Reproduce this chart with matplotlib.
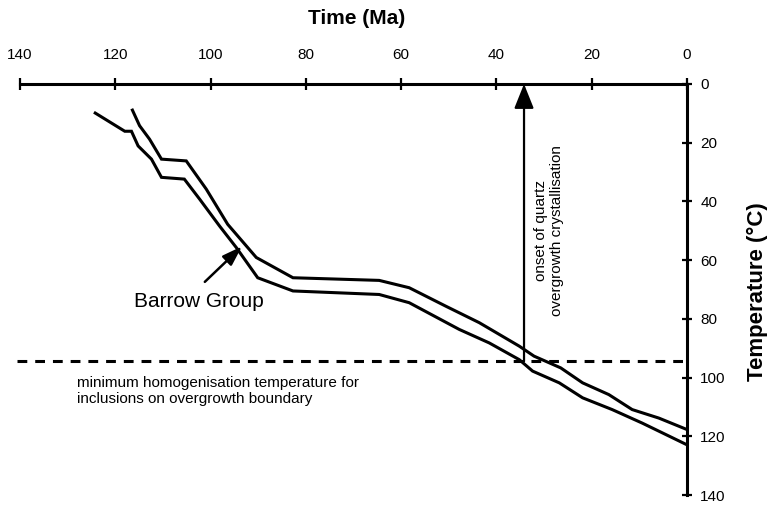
import matplotlib
matplotlib.use("Agg")
import matplotlib.pyplot as plt

plt.rcParams['font.family'] = ['Liberation Sans', 'DejaVu Sans']

# burial curves for the Barrow Group: time (Ma) vs temperature (C)
upper_age = [116.4, 114.9, 112.8, 110.3, 105.1, 100.9, 96.4, 90.4, 82.7, 64.6,
             58.3, 50.6, 43.6, 35.2, 32.1, 26.5, 21.9, 16.4, 11.5, 5.9, 0.0]
upper_temp = [8.9, 14.2, 18.8, 25.6, 26.2, 35.8, 47.8, 59.1, 66.0, 66.9,
              69.4, 75.7, 81.3, 89.3, 92.7, 96.7, 101.8, 105.8, 110.9, 113.8, 117.7]

lower_age = [124.2, 118.0, 116.6, 115.2, 112.4, 110.3, 105.5, 102.3, 98.1, 94.6,
             90.1, 82.7, 64.6, 58.3, 47.8, 41.5, 35.2, 32.4, 26.8, 21.9, 15.7, 9.4, 0.0]
lower_temp = [9.9, 16.1, 16.1, 21.1, 25.6, 31.8, 32.4, 39.2, 48.4, 55.7,
              66.0, 70.5, 71.7, 74.5, 83.6, 88.2, 93.9, 97.8, 101.8, 106.9, 110.9, 115.5, 122.9]

homog_temp = 94.5      # minimum homogenisation temperature
onset_age = 34.2       # onset of quartz overgrowth

age_ticks = [140, 120, 100, 80, 60, 40, 20, 0]
temp_ticks = [0, 20, 40, 60, 80, 100, 120, 140]

fig = plt.figure(figsize=(7.71, 5.05), dpi=100)
ax = fig.add_axes([0.0259, 0.0198, 0.8651, 0.8139])

ax.set_xlim(140, 0)
ax.set_ylim(140, 0)

for side in ['left', 'bottom']:
    ax.spines[side].set_visible(False)
for side in ['top', 'right']:
    ax.spines[side].set_linewidth(2.2)

ax.xaxis.tick_top()
ax.yaxis.tick_right()
ax.set_xticks(age_ticks)
ax.set_yticks(temp_ticks)
ax.tick_params(axis='x', direction='inout', length=8, width=1.6, labelsize=11, pad=12)
ax.tick_params(axis='y', direction='inout', length=7, width=1.6, labelsize=11, pad=6)

ax.plot(upper_age, upper_temp, color='black', lw=2.2, solid_joinstyle='miter')
ax.plot(lower_age, lower_temp, color='black', lw=2.2, solid_joinstyle='miter')

ax.plot([140.7, 0], [homog_temp, homog_temp], color='black', lw=2.2,
        dashes=(3.2, 2.6), clip_on=False)

ax.annotate('', xy=(onset_age, 0), xytext=(onset_age, homog_temp),
            arrowprops=dict(arrowstyle='-|>,head_length=0.75,head_width=0.3',
                            color='black', lw=1.6, shrinkA=0, shrinkB=0,
                            mutation_scale=20))
ax.text(29.0, 50.0, 'onset of quartz\novergrowth crystallisation', rotation=90,
        ha='center', va='center', multialignment='center', fontsize=11,
        linespacing=1.15)

ax.annotate('', xy=(93.4, 55.3), xytext=(101.2, 67.4),
            arrowprops=dict(arrowstyle='-|>,head_length=0.6,head_width=0.2',
                            color='black', lw=1.8, shrinkA=0, shrinkB=0,
                            mutation_scale=20))
ax.text(102.4, 74.2, 'Barrow Group', ha='center', va='center', fontsize=15)

ax.text(128.0, 104.5, 'minimum homogenisation temperature for\ninclusions on overgrowth boundary',
        ha='left', va='center', fontsize=11, linespacing=1.15)

fig.text(0.463, 0.964, 'Time (Ma)', ha='center', va='center',
         fontsize=15, fontweight='bold')
fig.text(0.983, 0.422, 'Temperature (\u00b0C)', ha='center', va='center',
         rotation=90, fontsize=16, fontweight='bold')

fig.savefig('out.png', dpi=100)
